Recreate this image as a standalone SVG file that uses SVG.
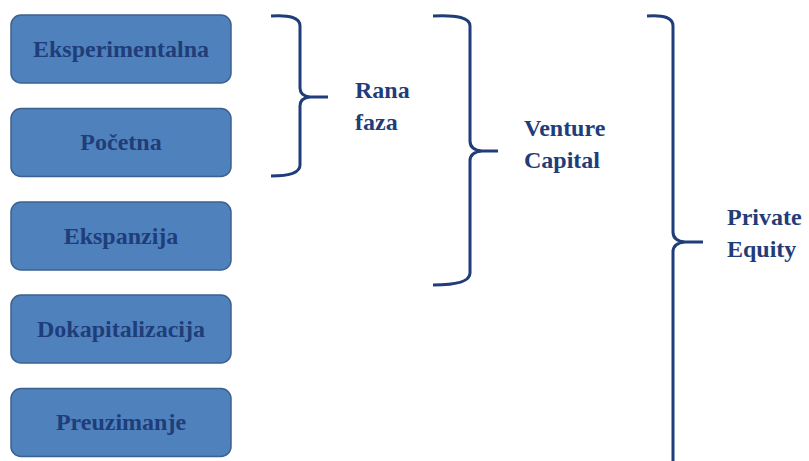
<svg xmlns="http://www.w3.org/2000/svg" width="809" height="461" viewBox="0 0 809 461">
<style>
.box{fill:#4F81BD;stroke:#3B6190;stroke-width:1.5}
.t{font-family:'Liberation Serif',serif;font-weight:bold;font-size:24px;fill:#1F3D78}
.m{text-anchor:middle}
.br{fill:none;stroke:#1F3D78;stroke-width:3}
</style>
<rect width="809" height="461" fill="#ffffff"/>
<g id="node-eksperimentalna"><rect class="box" x="11" y="15" width="220" height="68" rx="10"/><text class="t m" x="121" y="57">Eksperimentalna</text></g>
<g id="node-pocetna"><rect class="box" x="11" y="108.5" width="220" height="68" rx="10"/><text class="t m" x="121" y="150">Početna</text></g>
<g id="node-ekspanzija"><rect class="box" x="11" y="202" width="220" height="68" rx="10"/><text class="t m" x="121" y="244">Ekspanzija</text></g>
<g id="node-dokapitalizacija"><rect class="box" x="11" y="295" width="220" height="68" rx="10"/><text class="t m" x="121" y="337">Dokapitalizacija</text></g>
<g id="node-preuzimanje"><rect class="box" x="11" y="388.5" width="220" height="68" rx="10"/><text class="t m" x="121" y="430">Preuzimanje</text></g>
<g id="connectors">
<path class="br" d="M271,16 Q300,14 300,26 V88 Q300,96 310,97 H328 M310,97 Q300,98 300,106 V165 Q300,176 271,176"/>
<path class="br" d="M433,16 Q470,14 470,26 V141 Q470,150 482,151 H498 M482,151 Q470,152 470,161 V273 Q470,285 433,285"/>
<path class="br" d="M647,16 Q673,14 673,26 V232 Q673,241 685,242 H703 M685,242 Q673,243 673,252 V461"/>
</g>
<g id="labels">
<text class="t" x="355" y="98">Rana</text>
<text class="t" x="355" y="130">faza</text>
<text class="t" x="524" y="136">Venture</text>
<text class="t" x="524" y="168">Capital</text>
<text class="t" x="727" y="225">Private</text>
<text class="t" x="727" y="257">Equity</text>
</g>
</svg>
